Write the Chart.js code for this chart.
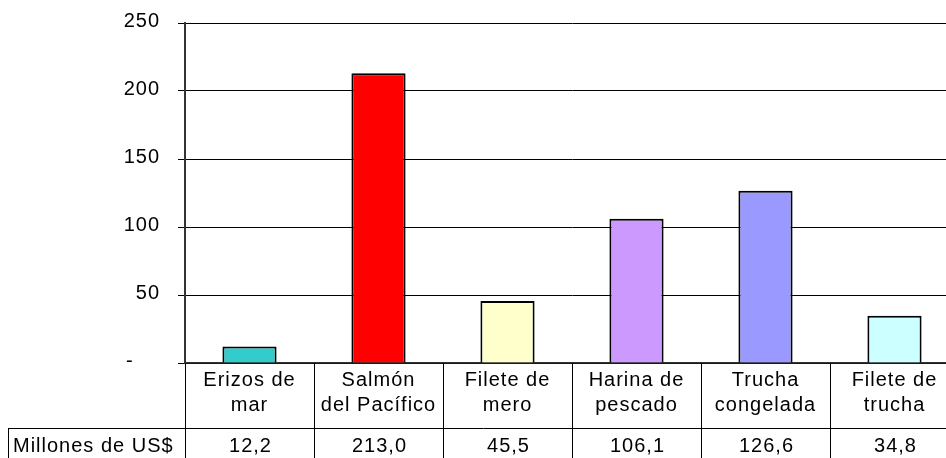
<!DOCTYPE html>
<html>
<head>
<meta charset="utf-8">
<script src="https://cdn.jsdelivr.net/npm/chart.js@4/dist/chart.umd.min.js"></script>
<style>
  html, body { margin: 0; padding: 0; background: #fff; overflow: hidden; }
  #wrap { width: 946px; height: 458px; overflow: hidden; position: relative; }
  canvas { display: block; }
</style>
</head>
<body>
<div id="wrap"><canvas id="c" width="960" height="458"></canvas></div>
<script>
const categories = [
  ["Erizos de", "mar"],
  ["Salmón", "del Pacífico"],
  ["Filete de", "mero"],
  ["Harina de", "pescado"],
  ["Trucha", "congelada"],
  ["Filete de", "trucha"]
];
const values = [12.2, 213.0, 45.5, 106.1, 126.6, 34.8];
const barColors = ["#33CCCC", "#FF0000", "#FFFFCC", "#CC99FF", "#9999FF", "#CCFFFF"];
const seriesName = "Millones de US$";
const yTickValues = [0, 50, 100, 150, 200, 250];
const zeroLabel = "-    ";

const FONT = '"Liberation Sans", Arial, sans-serif';
const FS = 20;
const LS = '1px';

const fmt = v => v.toFixed(1).replace('.', ',');

const spacingPlugin = {
  id: 'spacing',
  beforeUpdate(chart) { chart.ctx.letterSpacing = LS; },
  beforeDraw(chart) { chart.ctx.letterSpacing = LS; }
};

const tablePlugin = {
  id: 'dataTable',
  afterDraw(chart) {
    const ctx = chart.ctx, xs = chart.scales.x, a = chart.chartArea;
    const H = chart.height;
    const rowY = a.bottom + 65;
    const n = categories.length;
    ctx.save();
    ctx.letterSpacing = LS;
    ctx.strokeStyle = '#000';
    ctx.lineWidth = 1;
    ctx.beginPath();
    for (let i = 0; i <= n; i++) {
      let x;
      if (i === 0) x = a.left;
      else if (i === n) x = a.right;
      else x = (xs.getPixelForValue(i - 1) + xs.getPixelForValue(i)) / 2;
      x = Math.round(x) + 0.5;
      ctx.moveTo(x, a.bottom);
      ctx.lineTo(x, H);
    }
    ctx.moveTo(8, Math.round(rowY) + 0.5);
    ctx.lineTo(a.right, Math.round(rowY) + 0.5);
    ctx.moveTo(8.5, Math.round(rowY));
    ctx.lineTo(8.5, H);
    ctx.stroke();

    ctx.fillStyle = '#000';
    ctx.font = FS + 'px ' + FONT;
    ctx.textBaseline = 'middle';
    ctx.textAlign = 'left';
    ctx.fillText(seriesName, 13, rowY + 18);
    ctx.textAlign = 'center';
    values.forEach((v, i) => {
      ctx.fillText(fmt(v), xs.getPixelForValue(i) + 1, rowY + 18);
    });
    ctx.restore();
  }
};

new Chart(document.getElementById('c'), {
  type: 'bar',
  data: {
    labels: categories,
    datasets: [{
      label: seriesName,
      data: values,
      backgroundColor: barColors,
      borderColor: '#000',
      borderWidth: 2,
      barPercentage: 0.42,
      categoryPercentage: 1
    }]
  },
  options: {
    responsive: false,
    animation: false,
    devicePixelRatio: 1,
    layout: { padding: { top: 23, right: 1, left: 0, bottom: 0 } },
    plugins: {
      legend: { display: false },
      tooltip: { enabled: false }
    },
    scales: {
      x: {
        grid: { display: false, drawTicks: false },
        border: { display: true, color: '#333', width: 1.5 },
        ticks: {
          color: '#000',
          font: { family: FONT, size: FS, lineHeight: 1.25 },
          padding: 5,
          maxRotation: 0,
          autoSkip: false
        },
        afterFit(scale) { scale.height = 95; scale.paddingLeft = 0; scale.paddingRight = 0; }
      },
      y: {
        min: 0,
        max: 250,
        afterBuildTicks(scale) { scale.ticks = yTickValues.map(v => ({ value: v })); },
        grid: { color: '#000', lineWidth: 1, drawTicks: true, tickLength: 7, tickColor: '#000' },
        border: { display: true, color: '#333', width: 2 },
        ticks: {
          color: '#000',
          font: { family: FONT, size: FS },
          padding: 18,
          labelOffset: -2,
          callback: v => (v === 0 ? zeroLabel : String(v))
        },
        afterFit(scale) { scale.width = 185; scale.paddingTop = 0; scale.paddingBottom = 0; }
      }
    }
  },
  plugins: [spacingPlugin, tablePlugin]
});
</script>
</body>
</html>
